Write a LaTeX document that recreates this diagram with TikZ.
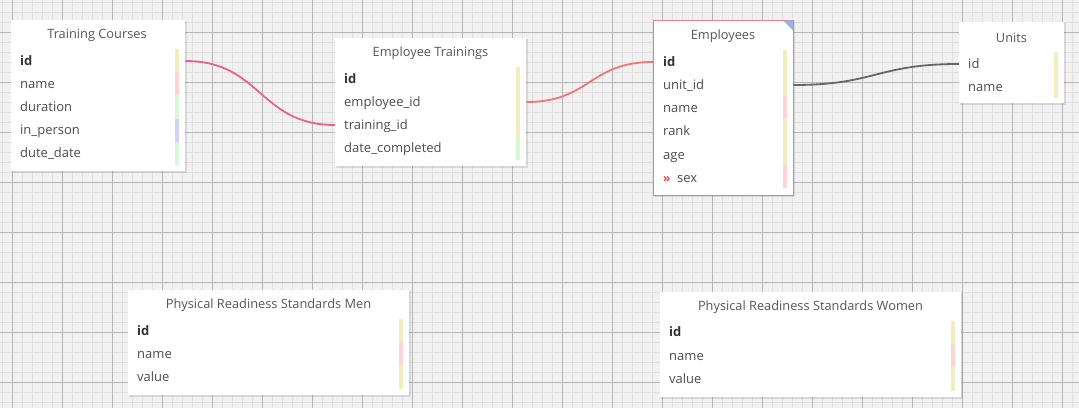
\documentclass[tikz,border=0pt]{standalone}
\usepackage{fontspec}
\setmainfont{Open Sans}
\definecolor{bg}{HTML}{F1F1F1}
\definecolor{minorc}{HTML}{E0E0E0}
\definecolor{majorc}{HTML}{B6B6B6}
\definecolor{barY}{HTML}{F0EEBC}
\definecolor{barP}{HTML}{FFD4D4}
\definecolor{barG}{HTML}{D6F8D6}
\definecolor{barB}{HTML}{D2D2F8}
\definecolor{titlec}{HTML}{555555}
\definecolor{fieldc}{HTML}{4C4C4C}
\definecolor{keyc}{HTML}{333333}
\definecolor{linkA}{HTML}{E8638A}
\definecolor{linkB}{HTML}{F07676}
\definecolor{linkC}{HTML}{666666}
\definecolor{selc}{HTML}{F07A98}
\definecolor{cornerc}{HTML}{8DB8E6}
\definecolor{markc}{HTML}{E84848}
\tikzset{
  erbox/.style={fill=white, draw=none, anchor=north west, inner sep=0pt},
  ershadow/.style={fill=black, opacity=0.10},
  ttl/.style={text=titlec, font=\fontsize{12.8}{14}\selectfont, inner sep=0pt, anchor=center},
  fld/.style={text=fieldc, font=\fontsize{13}{15}\selectfont, inner sep=0pt, anchor=west, text height=11pt, text depth=2.5pt},
  keyfld/.style={fld, text=keyc, font=\fontsize{13}{15}\selectfont\bfseries},
  link/.style={line width=1.8pt},
}
\newcommand\erframe[5]{%
  \fill[ershadow] (#2+1,#3+1) rectangle (#4+1.5,#5+1.8);
  \node[erbox, minimum width=#4-#2, minimum height=#5-#3] (#1) at (#2,#3) {};
}
\begin{document}
\begin{tikzpicture}[x=1pt,y=-1pt]
\useasboundingbox (0,0) rectangle (1079,408);
\fill[bg] (0,0) rectangle (1079,408);
% grid
\foreach \i in {2,12,...,1072} \draw[minorc, line width=1pt] (\i+0.5,0) -- (\i+0.5,408);
\foreach \j in {2,12,...,402} \draw[minorc, line width=1pt] (0,\j+0.5) -- (1079,\j+0.5);
\foreach \i in {12,62,...,1062} \draw[majorc, line width=1pt] (\i+0.5,0) -- (\i+0.5,408);
\foreach \j in {32,82,...,382} \draw[majorc, line width=1pt] (0,\j+0.5) -- (1079,\j+0.5);

% Training Courses
\erframe{tc}{11}{20}{185}{171}
\node[ttl] (tct) at (97,35) {Training Courses};
\node[keyfld] (tc1) at (20,61) {id};
\node[fld] (tc2) at (20,84) {name};
\node[fld] (tc3) at (20,107) {duration};
\node[fld] (tc4) at (20,130) {in\_person};
\node[fld] (tc5) at (20,153) {dute\_date};
\fill[barY] (175,49) rectangle (179,72);
\fill[barP] (175,72) rectangle (179,95);
\fill[barG] (175,95) rectangle (179,119);
\fill[barB] (175,119) rectangle (179,142);
\fill[barG] (175,142) rectangle (179,165);

% Employee Trainings
\erframe{et}{335}{38}{526}{166}
\node[ttl] (ett) at (430.5,53) {Employee Trainings};
\node[keyfld] (et1) at (344,79) {id};
\node[fld] (et2) at (344,102) {employee\_id};
\node[fld] (et3) at (344,125) {training\_id};
\node[fld] (et4) at (344,148) {date\_completed};
\fill[barY] (516,67) rectangle (520,137);
\fill[barG] (516,137) rectangle (520,160);

% Employees
\erframe{em}{653}{20}{793}{195}
\draw[selc, line width=1pt] (653.5,20.5) rectangle (793,195);
\fill[cornerc] (783,20.5) -- (793,20.5) -- (793,30.5) -- cycle;
\node[ttl] (emt) at (723,36) {Employees};
\node[keyfld] (em1) at (663,62) {id};
\node[fld] (em2) at (663,85) {unit\_id};
\node[fld] (em3) at (663,108) {name};
\node[fld] (em4) at (663,131) {rank};
\node[fld] (em5) at (663,155) {age};
\node[fld, text=markc, font=\fontsize{12}{14}\selectfont\bfseries] (em6m) at (663,178) {»};
\node[fld] (em6) at (677,178) {sex};
\fill[barY] (783,50) rectangle (787,96);
\fill[barP] (783,96) rectangle (787,119);
\fill[barY] (783,119) rectangle (787,165);
\fill[barP] (783,165) rectangle (787,188);

% Units
\erframe{un}{959}{22}{1064}{103}
\node[ttl] (unt) at (1011.5,38) {Units};
\node[fld] (un1) at (968,64) {id};
\node[fld] (un2) at (968,87) {name};
\fill[barY] (1054,52) rectangle (1058,98);

% Physical Readiness Standards Men
\erframe{pm}{128}{290}{409}{395}
\node[ttl] (pmt) at (268.5,305) {Physical Readiness Standards Men};
\node[keyfld] (pm1) at (137,331) {id};
\node[fld] (pm2) at (137,354) {name};
\node[fld] (pm3) at (137,377) {value};
\fill[barY] (399,319) rectangle (403,342);
\fill[barP] (399,342) rectangle (403,365);
\fill[barY] (399,365) rectangle (403,389);

% Physical Readiness Standards Women
\erframe{pw}{660}{292}{961}{397}
\node[ttl] (pwt) at (810.5,307) {Physical Readiness Standards Women};
\node[keyfld] (pw1) at (669,332) {id};
\node[fld] (pw2) at (669,356) {name};
\node[fld] (pw3) at (669,379) {value};
\fill[barY] (951,321) rectangle (955,344);
\fill[barP] (951,344) rectangle (955,367);
\fill[barY] (951,367) rectangle (955,391);

% connectors
\draw[link, linkA] (tc.east |- tc1) .. controls +(76,0) and +(-76,0) .. (et.west |- et3);
\draw[link, linkB] (et.east |- et2) .. controls +(64,0) and +(-64,0) .. (em.west |- em1);
\draw[link, linkC] (em.east |- em2) .. controls +(83,0) and +(-83,0) .. (un.west |- un1);
\end{tikzpicture}
\end{document}
